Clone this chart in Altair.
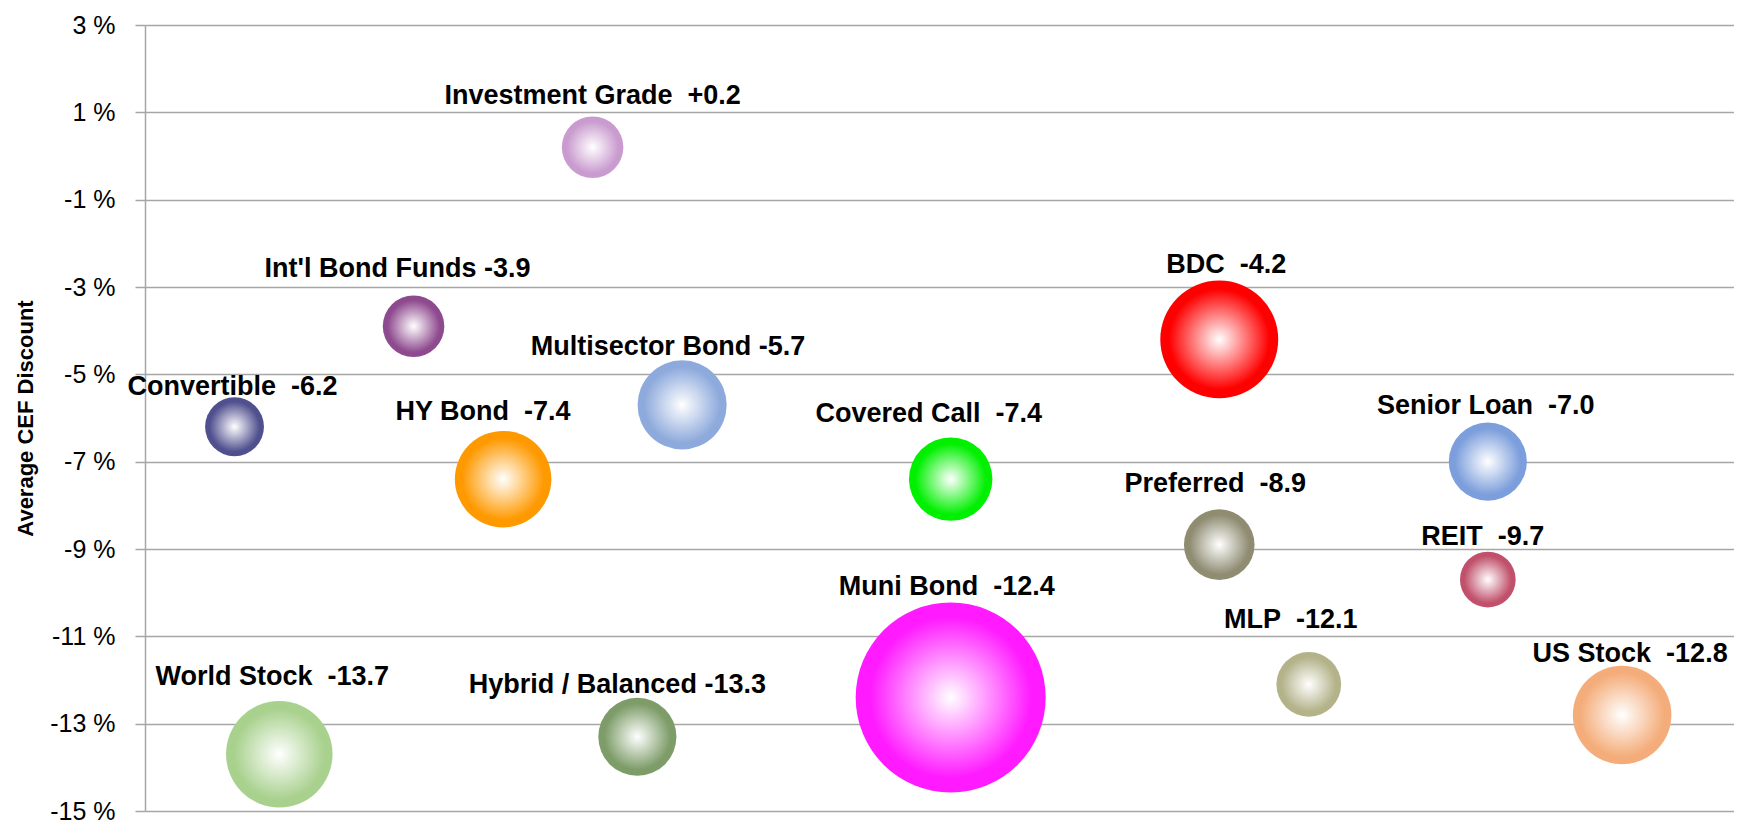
import math
import altair as alt
import pandas as pd

# ---------------- data ----------------
SECTORS = ["Convertible", "World Stock", "Int'l Bond Funds", "HY Bond", "Investment Grade",
           "Hybrid / Balanced", "Multisector Bond", "Covered Call", "Muni Bond", "BDC",
           "Preferred", "MLP", "Senior Loan", "REIT", "US Stock"]
X_POS = [2, 3, 6, 8, 10, 11, 12, 18, 18, 24, 24, 26, 30, 30, 33]
DISCOUNT = [-6.2, -13.7, -3.9, -7.4, 0.2, -13.3, -5.7, -7.4, -12.4, -4.2,
            -8.9, -12.1, -7.0, -9.7, -12.8]
BUBBLE = [9.6, 31.4, 10.5, 25.8, 10.5, 16.9, 22.0, 19.3, 100.0, 38.5,
          13.8, 11.6, 16.9, 8.6, 26.9]
LABEL_SEP = ["  ", "  ", " ", "  ", "  ", " ", " ", "  ", "  ", "  ",
             "  ", "  ", "  ", "  ", "  "]
Y_TICKS = [-15, -13, -11, -9, -7, -5, -3, -1, 1, 3]

# ---------------- styling ----------------
COLORS = ["#50508f", "#a9d18e", "#8e4a8e", "#ff9900", "#c99bcf",
          "#7d9c68", "#8eaadc", "#00f000", "#ff1aff", "#ff0000",
          "#8f8c72", "#b3b289", "#7c9edc", "#c0506b", "#f4ad7a"]
LABEL_DX = [-2, -7, -16, -20, 0, -20, -14, -22, -4, 7, -4, -18, -2, -5, 8]
LABEL_GAP = [2, 16, 19, 11, 12, 5, 5, 15, 7, 7, 17, 24, 9, 7, 4]

W, H = 1589, 786
XMAX, YMIN, YMAX = 35.5, -15, 3
DMAX = 190
SIZE_MAX = 100.0


def fmt(v):
    return f"{v:+.1f}" if v > 0 else f"{v:.1f}"


rows = []
for i, n in enumerate(SECTORS):
    r = DMAX / 2 * math.sqrt(BUBBLE[i] / SIZE_MAX)
    rows.append({
        "name": n,
        "x": X_POS[i],
        "y": DISCOUNT[i],
        "size": BUBBLE[i],
        "label": n + LABEL_SEP[i].replace("  ", "\u00a0 ") + fmt(DISCOUNT[i]),
        "lx": X_POS[i] + LABEL_DX[i] * XMAX / W,
        "ly": DISCOUNT[i] + (r + LABEL_GAP[i]) * (YMAX - YMIN) / H,
    })
df = pd.DataFrame(rows)

x_scale = alt.Scale(domain=[0, XMAX], nice=False, zero=False)
y_scale = alt.Scale(domain=[YMIN, YMAX], nice=False, zero=False)
y_axis = alt.Axis(
    values=Y_TICKS,
    labelExpr="datum.value + ' %'",
    title="Average CEF Discount",
    titleFont="Liberation Sans", titleFontSize=22, titleFontWeight="bold",
    titleColor="#000000", titleAngle=270, titleAlign="center", titleBaseline="middle",
    titleX=-120, titleY=H / 2,
    labelFont="Liberation Sans", labelFontSize=25, labelColor="#000000",
    labelPadding=20, labelBaseline="middle",
    tickSize=10, tickColor="#a6a6a6", tickWidth=1.5,
    domainColor="#a6a6a6", domainWidth=1.5,
    grid=True, gridColor="#a6a6a6", gridWidth=1.5,
)

base = alt.Chart(df)
layers = []
for i, n in enumerate(SECTORS):
    grad = alt.RadialGradient(
        gradient="radial",
        stops=[
            alt.GradientStop(offset=0, color="#ffffff"),
            alt.GradientStop(offset=0.85, color=COLORS[i]),
            alt.GradientStop(offset=1, color=COLORS[i]),
        ],
    )
    layers.append(
        base.transform_filter(alt.datum.name == n)
        .mark_circle(fill=grad, opacity=1, strokeWidth=0)
        .encode(
            x=alt.X("x:Q", scale=x_scale, axis=None),
            y=alt.Y("y:Q", scale=y_scale, axis=y_axis),
            size=alt.Size("size:Q", scale=alt.Scale(domain=[0, SIZE_MAX], range=[0, DMAX ** 2]),
                          legend=None),
        )
    )

labels = base.mark_text(
    align="center", baseline="alphabetic", font="Liberation Sans",
    fontSize=27, fontWeight="bold", color="#000000",
).encode(
    x=alt.X("lx:Q", scale=x_scale, axis=None),
    y=alt.Y("ly:Q", scale=y_scale, axis=y_axis),
    text="label:N",
)

chart = alt.layer(*layers, labels).properties(
    width=W, height=H,
    autosize=alt.AutoSizeParams(type="none"),
    padding={"left": 137, "top": 17, "right": 0, "bottom": 14},
    background="#ffffff",
).configure_view(stroke=None)

chart.save("out.html", embed_options={"renderer": "svg", "actions": False})
